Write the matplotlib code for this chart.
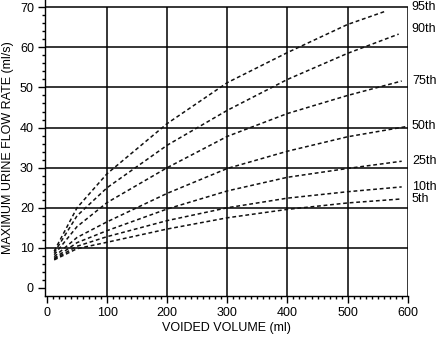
import matplotlib
matplotlib.use("Agg")
import matplotlib.pyplot as plt

plt.rcParams['font.family'] = ['Liberation Sans', 'DejaVu Sans']

volume = [12, 50, 100, 200, 300, 400, 500, 590]
p95_vol = [12, 50, 100, 200, 300, 400, 500, 565]
p95 = [9.2, 20.0, 28.5, 41.0, 51.2, 58.7, 65.7, 69.1]
p90_vol = [12, 50, 100, 200, 300, 400, 500, 585]
p90 = [8.8, 18.0, 25.0, 35.6, 44.3, 52.0, 58.5, 63.3]
p75 = [8.3, 15.3, 21.3, 30.0, 37.8, 43.5, 48.0, 51.6]
p50_vol = [12, 50, 100, 200, 300, 400, 500, 600]
p50 = [7.8, 12.6, 16.5, 23.6, 29.8, 34.1, 37.7, 40.3]
p25 = [7.4, 11.3, 14.3, 19.7, 24.2, 27.6, 29.8, 31.6]
p10 = [7.2, 10.4, 12.8, 16.8, 20.0, 22.4, 24.0, 25.2]
p5 = [7.0, 9.8, 11.4, 14.7, 17.5, 19.6, 21.2, 22.2]

series = [
    ("95th", p95_vol, p95),
    ("90th", p90_vol, p90),
    ("75th", volume, p75),
    ("50th", p50_vol, p50),
    ("25th", volume, p25),
    ("10th", volume, p10),
    ("5th", volume, p5),
]

xticks = [0, 100, 200, 300, 400, 500, 600]
yticks = [0, 10, 20, 30, 40, 50, 60, 70]

fig = plt.figure(figsize=(4.38, 3.38), dpi=100)
ax = fig.add_axes([45/438, 42/338, 363/438, 296/338])
ax.set_xlim(-3.3, 600.5)
ax.set_ylim(-2, 71.8)

for s in ['top', 'right']:
    ax.spines[s].set_visible(False)
for s in ['left', 'bottom']:
    ax.spines[s].set_linewidth(1.0)

# grid
ax.vlines(xticks[1:], -2, 70, color='black', lw=1.1, zorder=1)
ax.hlines(yticks[1:], -3.3, 600, color='black', lw=1.1, zorder=1)

for name, xv, yv in series:
    ax.plot(xv, yv, color='#111111', lw=1.1, linestyle=(0, (2.5, 1.8)), zorder=3)

label_y = {"95th": 70.0, "90th": 64.5}
for name, xv, yv in series:
    ax.annotate(name, xy=(600, label_y.get(name, yv[-1])), xytext=(3, 0),
                textcoords='offset points', fontsize=9, ha='left', va='center',
                annotation_clip=False)

ax.set_xticks(xticks)
ax.set_yticks(yticks)
ax.set_xticks(range(0, 601, 10), minor=True)
ax.set_yticks(range(0, 71, 2), minor=True)
ax.tick_params(axis='both', which='major', direction='out', length=5, width=1, labelsize=9, pad=3)
ax.tick_params(axis='both', which='minor', direction='out', length=2.5, width=1)

ax.set_xlabel("VOIDED VOLUME (ml)", fontsize=9, labelpad=2)
ax.set_ylabel("MAXIMUM URINE FLOW RATE (ml/s)", fontsize=9, labelpad=4)

fig.savefig("out.png", dpi=100)
